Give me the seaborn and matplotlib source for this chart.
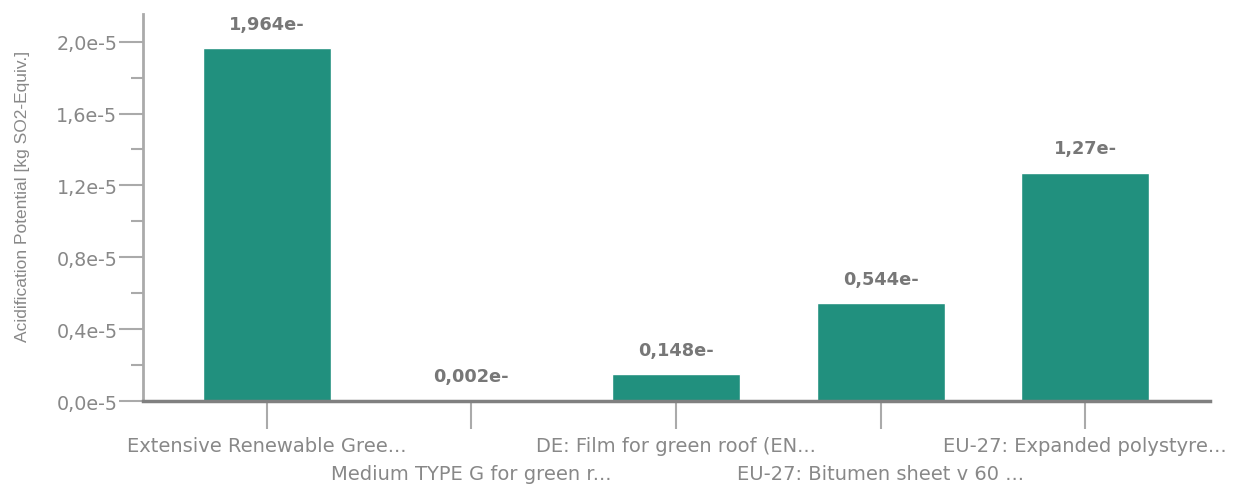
import matplotlib
matplotlib.use("Agg")
import matplotlib.pyplot as plt
import seaborn as sns
from matplotlib.ticker import MultipleLocator, FuncFormatter

categories = [
    "Extensive Renewable Gree...",
    "Medium TYPE G for green r...",
    "DE: Film for green roof (EN...",
    "EU-27: Bitumen sheet v 60 ...",
    "EU-27: Expanded polystyre...",
]
values = [1.964e-5, 0.002e-5, 0.148e-5, 0.544e-5, 1.27e-5]
y_label = "Acidification Potential [kg SO2-Equiv.]"

sns.set_theme(style="white")
plt.rcParams["font.family"] = ["DejaVu Sans"]

BAR = "#21907E"
TXT = "#888888"

fig = plt.figure(figsize=(12.5, 4.89), dpi=100)
ax = fig.add_axes([0.1144, 0.1779, 0.8536, 0.7914])

sns.barplot(x=categories, y=values, color=BAR, saturation=1, width=0.625, ax=ax)

ax.set_xlim(-0.605, 4.61)
ax.set_ylim(0, 2.154e-5)

for s in ["top", "right"]:
    ax.spines[s].set_visible(False)
ax.spines["left"].set_color("#aaaaaa")
ax.spines["left"].set_linewidth(2)
ax.spines["bottom"].set_color("#808080")
ax.spines["bottom"].set_linewidth(2.5)
ax.spines["bottom"].set_zorder(5)

ax.yaxis.set_major_locator(MultipleLocator(0.4e-5))
ax.yaxis.set_minor_locator(MultipleLocator(0.2e-5))
ax.yaxis.set_major_formatter(FuncFormatter(lambda v, p: f"{v/1e-5:.1f}e-5".replace(".", ",")))
ax.tick_params(axis="y", which="major", length=17, width=1.5, color="#aaaaaa",
               labelsize=13.8, labelcolor=TXT, pad=1.5, left=True)
ax.tick_params(axis="y", which="minor", length=8.6, width=1.5, color="#aaaaaa", left=True)
ax.tick_params(axis="x", which="major", length=20, width=1.5, color="#aaaaaa",
               labelsize=14, labelcolor=TXT, pad=5, bottom=True)

ax.set_xlabel("")
ax.set_ylabel(y_label, fontsize=12.5, color=TXT, family=["Liberation Sans", "DejaVu Sans"])
ax.yaxis.set_label_coords(-0.106, 0.53)

# staggered category labels
for i, t in enumerate(ax.xaxis.get_major_ticks()):
    if i % 2 == 1:
        t.set_pad(25)

# value labels
for i, v in enumerate(values):
    m = f"{v/1e-5:.3f}".rstrip("0")
    lab = m.replace(".", ",") + "e-"
    ax.annotate(lab, (i, v), xytext=(0, 14), textcoords="offset points",
                ha="center", va="baseline", fontsize=12.8, fontweight="bold", color="#777777")

fig.savefig("out.png", dpi=100)
